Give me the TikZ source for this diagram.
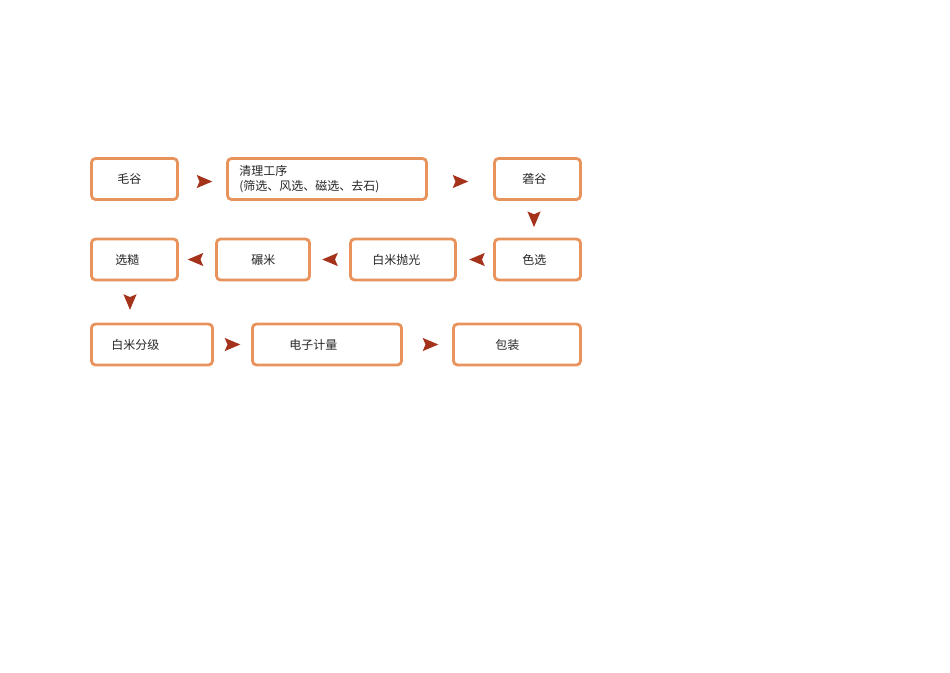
\documentclass[tikz,border=0pt]{standalone}
\usepackage{fontspec}
\setmainfont{Noto Sans CJK SC}
\usepackage{tikz}
\usetikzlibrary{calc, positioning}
\definecolor{boxorange}{rgb}{0.910, 0.576, 0.361}
\definecolor{tipred}{rgb}{0.647, 0.196, 0.106}

\tikzset{
    box/.style={draw=boxorange, line width=2.8pt, rounded corners=4pt, fill=white,
        inner sep=0pt, minimum height=41pt},
    txt/.style={anchor=west, inner sep=0pt, align=left, text=black!85,
        font=\fontsize{12}{15}\selectfont},
    pics/tip/.style={code={\fill[tipred] (7.8,0) -- (-7.8,-6.6) -- (-5,0) -- (-7.8,6.6) -- cycle;}}
}

\begin{document}
\begin{tikzpicture}[x=1pt, y=-1pt]
            \useasboundingbox (0,0) rectangle (950,672);

            \node[box, minimum width=86pt] (maogu) at (134.5,179) {};
            \node[box, minimum width=199pt] (qingli) at (327,179) {};
            \node[box, minimum width=86pt] (longgu) at (537.5,179) {};
            \node[box, minimum width=86pt] (xuancao) at (134.5,259.5) {};
            \node[box, minimum width=93pt] (nianmi) at (263,259.5) {};
            \node[box, minimum width=105pt] (paoguang) at (403,259.5) {};
            \node[box, minimum width=86pt] (sexuan) at (537.5,259.5) {};
            \node[box, minimum width=121pt] (fenji) at (152,344.5) {};
            \node[box, minimum width=149pt] (jiliang) at (327,344.5) {};
            \node[box, minimum width=127pt] (baozhuang) at (517,344.5) {};

            \node[txt, xshift=27pt] (maogu-t) at (maogu.west) {毛谷};
            \node[txt, xshift=13pt] (qingli-t) at (qingli.west) {清理工序\\(筛选、风选、磁选、去石)};
            \node[txt, xshift=29pt] (longgu-t) at (longgu.west) {砻谷};
            \node[txt, xshift=25pt] (xuancao-t) at (xuancao.west) {选糙};
            \node[txt, xshift=36pt] (nianmi-t) at (nianmi.west) {碾米};
            \node[txt, xshift=23pt] (paoguang-t) at (paoguang.west) {白米抛光};
            \node[txt, xshift=29pt] (sexuan-t) at (sexuan.west) {色选};
            \node[txt, xshift=21pt] (fenji-t) at (fenji.west) {白米分级};
            \node[txt, xshift=38pt] (jiliang-t) at (jiliang.west) {电子计量};
            \node[txt, xshift=43pt] (baozhuang-t) at (baozhuang.west) {包装};

            \pic at ($(maogu.east)!0.5!(qingli.west) + (2,2.5)$) {tip};
            \pic at ($(qingli.east)!0.5!(longgu.west) + (0,2.5)$) {tip};
            \pic[rotate=-90] at ($(longgu.south)!0.5!(sexuan.north) + (-3.5,0)$) {tip};
            \pic[rotate=180] at ($(sexuan.west)!0.5!(paoguang.east) + (2,0)$) {tip};
            \pic[rotate=180] at ($(paoguang.west)!0.5!(nianmi.east)$) {tip};
            \pic[rotate=180] at ($(nianmi.west)!0.5!(xuancao.east) + (-1.5,0)$) {tip};
            \pic[rotate=-90] at ($(xuancao.south)!0.5!(fenji.north -| xuancao.south) + (-4.5,0)$) {tip};
            \pic at ($(fenji.east)!0.5!(jiliang.west)$) {tip};
            \pic at ($(jiliang.east)!0.5!(baozhuang.west) + (3,0)$) {tip};

        \end{tikzpicture}
\end{document}
